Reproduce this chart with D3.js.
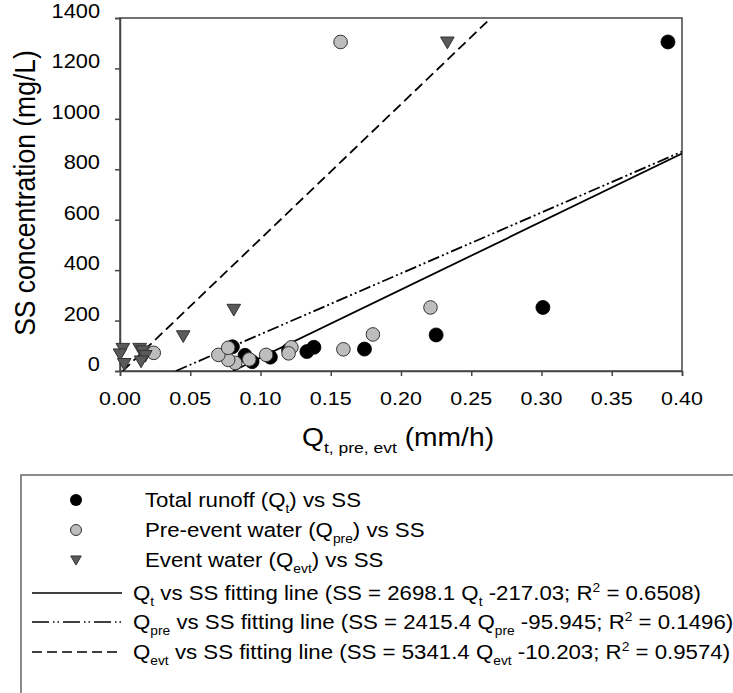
<!DOCTYPE html>
<html><head><meta charset="utf-8">
<script src="https://cdn.jsdelivr.net/npm/d3@7"></script>
<style>
body{margin:0;background:#fff}
text{font-family:"Liberation Sans", Arial, Helvetica, sans-serif; fill:#000}
</style>
</head><body>
<svg id="chart" width="733" height="693"></svg>
<script>
// ---- data ----
const xTicks = [0.00, 0.05, 0.10, 0.15, 0.20, 0.25, 0.30, 0.35, 0.40];
const yTicks = [0, 200, 400, 600, 800, 1000, 1200, 1400];

const totalQ  = [0.390, 0.301, 0.225, 0.174, 0.138, 0.133, 0.120, 0.107, 0.094, 0.089, 0.080];
const totalSS = [1305, 252, 143, 87, 94, 77, 83, 55, 37, 62, 96];

const preQ  = [0.157, 0.221, 0.180, 0.159, 0.122, 0.120, 0.104, 0.092, 0.082, 0.077, 0.070, 0.077, 0.024];
const preSS = [1305, 252, 145, 86, 94, 70, 64, 46, 32, 44, 64, 92, 72];

const evtQ  = [0.233, 0.081, 0.045, 0.002, 0.000, 0.003, 0.014, 0.016, 0.018, 0.015];
const evtSS = [1305, 245, 140, 90, 68, 30, 90, 80, 62, 40];

// fitting lines (from the legend equations)
const fitNames = ["t", "pre", "evt"];
const fitSlopes = [2698.1, 2415.4, 5341.4];
const fitIntercepts = [-217.03, -95.945, -10.203];
const fitR2 = ["0.6508", "0.1496", "0.9574"];
const fitDash = [null, "12,3,2,3,2,3", "10,5"];
const fitLegendDash = [null, "17,4,1.5,3,1.5,4", "10,5"];

const legendMarkerLabels = [
  [["Total runoff (Q",""],["t","sub"],[") vs SS",""]],
  [["Pre-event water (Q",""],["pre","sub"],[") vs SS",""]],
  [["Event water (Q",""],["evt","sub"],[") vs SS",""]]
];

// ---- layout ----
const svg = d3.select("#chart");
const L = 120, R = 682, T = 18, B = 371;
const SX = 1.13; // horizontal text stretch seen in the reference
const x = d3.scaleLinear().domain([0, 0.4]).range([L, R]);
const y = d3.scaleLinear().domain([0, 1400]).range([B, T]);
const axisColor = "#444";

function addText(parent, px, py, pieces, size, anchor, rot, extra) {
  const t = parent.append("text")
    .attr("transform", `translate(${px},${py}) scale(${SX},1)` + (rot ? ` rotate(${rot})` : ""))
    .attr("font-size", size)
    .attr("text-anchor", anchor || "start");
  if (extra) t.attr("dy", extra);
  let shift = 0;
  pieces.forEach(p => {
    const [s, kind] = p;
    let target = 0;
    if (kind === "sub") target = size * 0.28;
    else if (kind === "sup") target = -size * 0.42;
    const ts = t.append("tspan").text(s).attr("dy", target - shift);
    if (kind) ts.attr("font-size", size * 0.62);
    shift = target;
  });
  return t;
}

// clip
svg.append("defs").append("clipPath").attr("id", "plotclip")
  .append("rect").attr("x", L).attr("y", T).attr("width", R - L).attr("height", B - T);

// frame
svg.append("rect").attr("x", L).attr("y", T).attr("width", R - L).attr("height", B - T)
  .attr("fill", "none").attr("stroke", axisColor).attr("stroke-width", 1.5);

// axes
const xAxis = svg.append("g").attr("transform", `translate(0,${B})`)
  .call(d3.axisBottom(x).tickValues(xTicks).tickSize(5).tickFormat(""));
const yAxis = svg.append("g").attr("transform", `translate(${L},0)`)
  .call(d3.axisLeft(y).tickValues(yTicks).tickSize(5).tickFormat(""));
[xAxis, yAxis].forEach(a => {
  a.select(".domain").attr("stroke", axisColor).attr("stroke-width", 1.5);
  a.selectAll(".tick line").attr("stroke", axisColor).attr("stroke-width", 1.5);
});

// tick labels
xTicks.forEach(v => addText(svg, x(v), 405, [[d3.format(".2f")(v), ""]], 19, "middle"));
yTicks.forEach(v => addText(svg, 100, y(v), [[String(v), ""]], 19.3, "end", null, "0.35em"));

// axis titles
addText(svg, 398, 446, [["Q",""],["t, pre, evt","sub"],[" (mm/h)",""]], 25, "middle");
addText(svg, 35, 193, [["SS concentration (mg/L)",""]], 26.5, "middle", -90);

// fitting lines
const plot = svg.append("g").attr("clip-path", "url(#plotclip)");
const lineGen = d3.line().x(d => x(d[0])).y(d => y(d[1]));
fitSlopes.forEach((m, i) => {
  const b = fitIntercepts[i];
  const q0 = Math.max(0, -b / m), q1 = Math.min(0.4, (1400 - b) / m);
  plot.append("path")
    .attr("d", lineGen([[q0, m * q0 + b], [q1, m * q1 + b]]))
    .attr("fill", "none").attr("stroke", "#000").attr("stroke-width", 1.8)
    .attr("stroke-dasharray", fitDash[i]);
});

// points
const pts = svg.append("g");
pts.selectAll("circle.total").data(totalQ.map((q, i) => [q, totalSS[i]])).enter()
  .append("circle").attr("cx", d => x(d[0])).attr("cy", d => y(d[1])).attr("r", 7)
  .attr("fill", "#000").attr("stroke", "#000").attr("stroke-width", 0.8);
pts.selectAll("circle.pre").data(preQ.map((q, i) => [q, preSS[i]])).enter()
  .append("circle").attr("cx", d => x(d[0])).attr("cy", d => y(d[1])).attr("r", 6.8)
  .attr("fill", "#bdbdbd").attr("stroke", "#333").attr("stroke-width", 1);
const tri = d3.symbol().type(d3.symbolTriangle).size(80);
pts.selectAll("path.evt").data(evtQ.map((q, i) => [q, evtSS[i]])).enter()
  .append("path").attr("d", tri)
  .attr("transform", d => `translate(${x(d[0])},${y(d[1]) - 1}) rotate(180)`)
  .attr("fill", "#5a5a5a").attr("stroke", "#333").attr("stroke-width", 1);

// legend
const lg = svg.append("g");
lg.append("rect").attr("x", 21).attr("y", 475).attr("width", 800).attr("height", 300)
  .attr("fill", "none").attr("stroke", "#666").attr("stroke-width", 1.5);
const mRows = [500, 530, 560];
lg.append("circle").attr("cx", 76).attr("cy", mRows[0]).attr("r", 6).attr("fill", "#000");
lg.append("circle").attr("cx", 76).attr("cy", mRows[1]).attr("r", 5.5)
  .attr("fill", "#bdbdbd").attr("stroke", "#333").attr("stroke-width", 1);
lg.append("path").attr("d", d3.symbol().type(d3.symbolTriangle).size(48))
  .attr("transform", `translate(76,${mRows[2] - 1}) rotate(180)`)
  .attr("fill", "#5a5a5a").attr("stroke", "#333").attr("stroke-width", 1);
legendMarkerLabels.forEach((p, i) => addText(lg, 145, mRows[i] + 7, p, 19.7, "start"));

const lRows = [593, 622, 652];
fitSlopes.forEach((m, i) => {
  lg.append("line").attr("x1", 32).attr("x2", 122).attr("y1", lRows[i]).attr("y2", lRows[i])
    .attr("stroke", "#000").attr("stroke-width", 1.7).attr("stroke-dasharray", fitLegendDash[i]);
  const n = fitNames[i];
  addText(lg, 133, lRows[i] + 7, [
    ["Q",""],[n,"sub"],[` vs SS fitting line (SS = ${m} Q`,""],[n,"sub"],
    [` ${fitIntercepts[i]}; R`,""],["2","sup"],[` = ${fitR2[i]})`,""]
  ], 19.7, "start");
});
</script>
</body></html>
